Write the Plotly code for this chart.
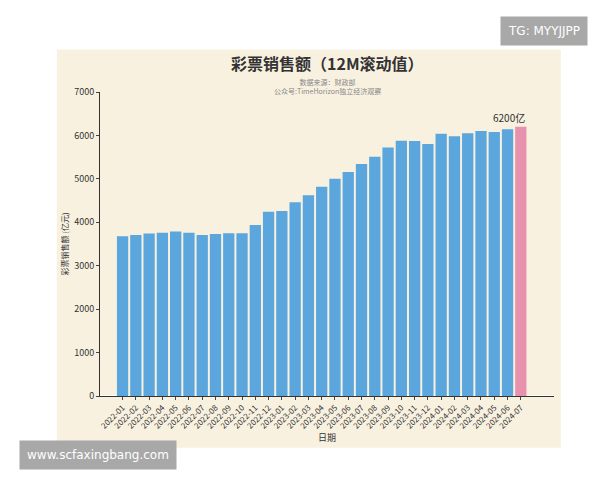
import plotly.graph_objects as go

months = [f"{y}-{m:02d}" for y in (2022, 2023) for m in range(1, 13)] + [f"2024-{m:02d}" for m in range(1, 8)]
sales = [3680, 3710, 3740, 3760, 3790, 3760, 3710, 3730, 3750, 3750, 3940, 4240,
         4260, 4460, 4620, 4820, 5000, 5160, 5340, 5510, 5720, 5880, 5870, 5800,
         6040, 5980, 6050, 6100, 6080, 6140, 6200]
colors = ["#5aa6dd"] * (len(sales) - 1) + ["#e891ad"]

fig = go.Figure(go.Bar(x=months, y=sales, marker=dict(color=colors, line=dict(width=0))))

font = "Noto Sans CJK SC"
fig.update_layout(
    width=600, height=480,
    margin=dict(l=92, r=54, t=84, b=92),
    paper_bgcolor="white", plot_bgcolor="rgba(0,0,0,0)",
    font=dict(family=font, color="#333"),
    showlegend=False, bargap=0.15,
    xaxis=dict(type="category", range=[-1.7, 32.5], tickangle=-45, tickfont=dict(size=8),
               showline=True, linecolor="#333", ticks="outside", ticklen=3,
               title=dict(text="日期", font=dict(size=9), standoff=4)),
    yaxis=dict(range=[0, 7000], dtick=1000, tickfont=dict(size=9), showgrid=False,
               showline=True, linecolor="#333", ticks="outside", ticklen=3,
               title=dict(text="彩票销售额 (亿元)", font=dict(size=8), standoff=4)),
    shapes=[dict(type="rect", xref="paper", yref="paper", layer="below",
                 x0=-0.095, x1=1.015, y0=-0.17, y1=1.14, line=dict(width=0),
                 fillcolor="#f8f1e0")],
    annotations=[
        dict(x=months[-1], y=sales[-1], text="6200亿", showarrow=False,
             yanchor="bottom", xanchor="right", xshift=6, font=dict(size=10, color="#333")),
        dict(xref="paper", yref="paper", x=0.5, y=1.14, yanchor="top", showarrow=False,
             text="<b>彩票销售额（12M滚动值）</b>", font=dict(size=16, color="#333")),
        dict(xref="paper", yref="paper", x=0.5, y=1.055, yanchor="top", showarrow=False,
             text="数据来源：财政部<br>公众号:TimeHorizon独立经济观察", font=dict(size=7, color="#888")),
        dict(xref="paper", yref="paper", x=1.075, y=1.25, xanchor="right", yanchor="top",
             showarrow=False, text="TG: MYYJJPP", bgcolor="#a8a8a8", borderpad=7,
             font=dict(size=12, color="white", family="DejaVu Sans")),
        dict(xref="paper", yref="paper", x=-0.178, y=-0.145, xanchor="left", yanchor="top",
             showarrow=False, text="www.scfaxingbang.com", bgcolor="#a8a8a8", borderpad=7,
             font=dict(size=12, color="white", family="DejaVu Sans")),
    ],
)

fig.write_html("out.html")
